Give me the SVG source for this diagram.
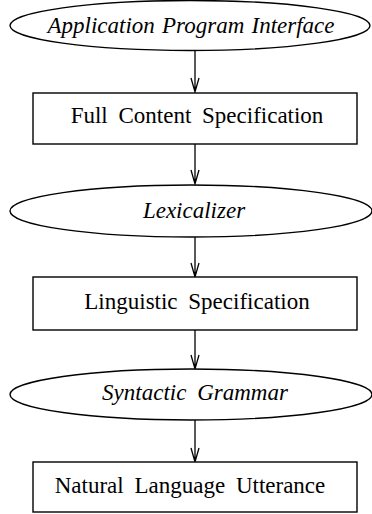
<svg xmlns="http://www.w3.org/2000/svg" width="372" height="514" viewBox="0 0 372 514">
<defs>
<style>
.n{fill:#fff;stroke:#000;stroke-width:1.4}
.t{font-family:"Liberation Serif","Times New Roman",serif;font-size:23px;word-spacing:5px;text-anchor:middle;fill:#000}
.i{font-style:italic}
.c{fill:none;stroke:#000;stroke-width:1.3}
</style>
</defs>
<rect width="372" height="514" fill="#fff"/>
<g id="connectors">
<path class="c" d="M195 51V92M191 78L195 92L199 78"/>
<path class="c" d="M195 144V184M191 170L195 184L199 170"/>
<path class="c" d="M195 237V277M191 263L195 277L199 263"/>
<path class="c" d="M195 330V369M191 355L195 369L199 355"/>
<path class="c" d="M195 420V462M191 448L195 462L199 448"/>
</g>
<g id="api">
<ellipse class="n" cx="190" cy="25.5" rx="180" ry="25"/>
<text class="t i" x="191" y="33" style="word-spacing:1.5px">Application Program Interface</text>
</g>
<g id="fullcontent">
<rect class="n" x="33" y="93" width="324" height="51"/>
<text class="t" x="197" y="123">Full Content Specification</text>
</g>
<g id="lexicalizer">
<ellipse class="n" cx="191" cy="211" rx="181" ry="26"/>
<text class="t i" x="194" y="218">Lexicalizer</text>
</g>
<g id="linguistic">
<rect class="n" x="33" y="277" width="324" height="53"/>
<text class="t" x="197" y="309">Linguistic Specification</text>
</g>
<g id="syntactic">
<ellipse class="n" cx="191" cy="394.5" rx="181" ry="25.5"/>
<text class="t i" x="195" y="400">Syntactic Grammar</text>
</g>
<g id="natural">
<rect class="n" x="33" y="462" width="324" height="50"/>
<text class="t" x="190" y="493">Natural Language Utterance</text>
</g>
</svg>
